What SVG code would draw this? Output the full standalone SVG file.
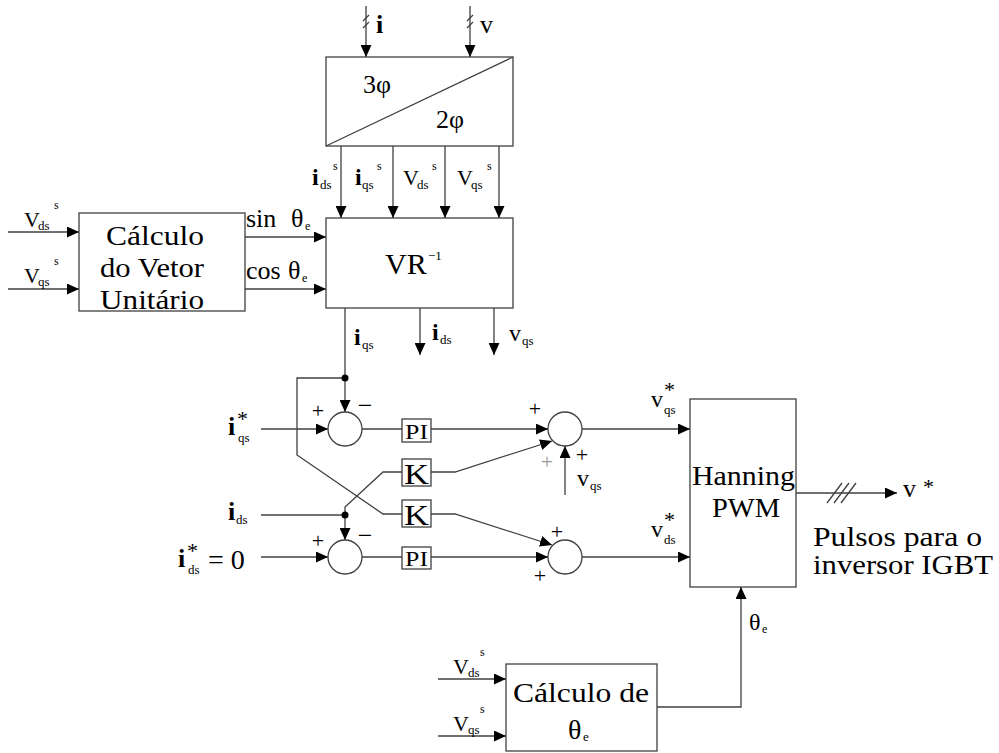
<svg xmlns="http://www.w3.org/2000/svg" width="999" height="753" viewBox="0 0 999 753">
<style>
.ln{fill:none;stroke:#404040;stroke-width:1.3}
.bx{fill:#fff;stroke:#404040;stroke-width:1.3}
.t{font-family:"Liberation Serif","Times New Roman",serif;fill:#000}
.b{font-weight:bold}
.sg{font-family:"Liberation Serif","Times New Roman",serif;fill:#000;text-anchor:middle}
</style>
<defs>
<marker id="ah" viewBox="0 0 12 11" markerWidth="12" markerHeight="11" refX="12" refY="5.5" orient="auto" markerUnits="userSpaceOnUse">
<path d="M0,0 L12,5.5 L0,11 z" fill="#000"/>
</marker>
</defs>
<rect width="999" height="753" fill="#fff"/>

<g id="connectors">
<line class="ln" x1="366" y1="6" x2="366" y2="57" marker-end="url(#ah)"/>
<line class="ln" x1="470" y1="6" x2="470" y2="57" marker-end="url(#ah)"/>
<path class="ln" d="M363,21 L369,15 M363,28 L369,22 M467,21 L473,15 M467,28 L473,22"/>
<line class="ln" x1="341" y1="146" x2="341" y2="218" marker-end="url(#ah)"/>
<line class="ln" x1="393" y1="146" x2="393" y2="218" marker-end="url(#ah)"/>
<line class="ln" x1="445" y1="146" x2="445" y2="218" marker-end="url(#ah)"/>
<line class="ln" x1="499" y1="146" x2="499" y2="218" marker-end="url(#ah)"/>
<line class="ln" x1="8" y1="232" x2="79" y2="232" marker-end="url(#ah)"/>
<line class="ln" x1="8" y1="289" x2="79" y2="289" marker-end="url(#ah)"/>
<line class="ln" x1="245" y1="237" x2="326" y2="237" marker-end="url(#ah)"/>
<line class="ln" x1="245" y1="289" x2="326" y2="289" marker-end="url(#ah)"/>
<line class="ln" x1="345" y1="308" x2="345" y2="412" marker-end="url(#ah)"/>
<line class="ln" x1="420" y1="308" x2="420" y2="355" marker-end="url(#ah)"/>
<line class="ln" x1="494" y1="308" x2="494" y2="355" marker-end="url(#ah)"/>
<polyline class="ln" points="345,378 297,378 297,455 383,514 402,514"/>
<line class="ln" x1="261" y1="515" x2="345" y2="515"/>
<polyline class="ln" points="345,515 345,507 383,472 402,472"/>
<line class="ln" x1="345" y1="515" x2="345" y2="540" marker-end="url(#ah)"/>
<line class="ln" x1="261" y1="429" x2="328" y2="429" marker-end="url(#ah)"/>
<line class="ln" x1="261" y1="557" x2="328" y2="557" marker-end="url(#ah)"/>
<line class="ln" x1="362" y1="429" x2="402" y2="429"/>
<line class="ln" x1="362" y1="557" x2="402" y2="557"/>
<line class="ln" x1="431" y1="429" x2="548" y2="429" marker-end="url(#ah)"/>
<line class="ln" x1="431" y1="557" x2="548" y2="557" marker-end="url(#ah)"/>
<polyline class="ln" points="431,472 455,472 552,441" marker-end="url(#ah)"/>
<polyline class="ln" points="431,514 455,514 552,545" marker-end="url(#ah)"/>
<line class="ln" x1="565" y1="495" x2="565" y2="446" marker-end="url(#ah)"/>
<line class="ln" x1="582" y1="429" x2="690" y2="429" marker-end="url(#ah)"/>
<line class="ln" x1="582" y1="557" x2="690" y2="557" marker-end="url(#ah)"/>
<line class="ln" x1="796" y1="493" x2="897" y2="493" marker-end="url(#ah)"/>
<path class="ln" d="M827,503 L842,483 M834,503 L849,483 M841,503 L856,483"/>
<polyline class="ln" points="657,707 741,707 741,587" marker-end="url(#ah)"/>
<line class="ln" x1="438" y1="679" x2="506" y2="679" marker-end="url(#ah)"/>
<line class="ln" x1="438" y1="736" x2="506" y2="736" marker-end="url(#ah)"/>
<circle cx="345" cy="378" r="3.5" fill="#000"/>
<circle cx="345" cy="515" r="3.5" fill="#000"/>
</g>

<g id="labels">
<text class="t b" x="376" y="33" font-size="26">i</text>
<text class="t" x="480" y="33" font-size="26">v</text>
<text class="t b" x="312" y="185" font-size="24">i<tspan x="320" y="189" font-size="13" font-weight="normal">ds</tspan><tspan x="333" y="170" font-size="12" font-weight="normal">s</tspan></text>
<text class="t b" x="355" y="185" font-size="24">i<tspan x="362" y="189" font-size="13" font-weight="normal">qs</tspan><tspan x="377" y="170" font-size="12" font-weight="normal">s</tspan></text>
<text class="t" x="403" y="185" font-size="22">V<tspan x="417" y="189" font-size="13">ds</tspan><tspan x="432" y="170" font-size="12">s</tspan></text>
<text class="t" x="457" y="185" font-size="22">V<tspan x="471" y="189" font-size="13">qs</tspan><tspan x="487" y="170" font-size="12">s</tspan></text>
<text class="t" x="24" y="227" font-size="22">V<tspan x="38" y="230" font-size="13">ds</tspan><tspan x="54" y="209" font-size="12">s</tspan></text>
<text class="t" x="24" y="283" font-size="22">V<tspan x="38" y="286" font-size="13">qs</tspan><tspan x="54" y="265" font-size="12">s</tspan></text>
<text class="t" x="246" y="227" font-size="26">sin<tspan x="291">θ</tspan><tspan x="305" y="230" font-size="12">e</tspan></text>
<text class="t" x="246" y="279" font-size="26">cos<tspan x="288">θ</tspan><tspan x="302" y="282" font-size="12">e</tspan></text>
<text class="t b" x="354" y="345" font-size="24">i<tspan x="362" y="349" font-size="13" font-weight="normal">qs</tspan></text>
<text class="t b" x="432" y="340" font-size="24">i<tspan x="440" y="344" font-size="13" font-weight="normal">ds</tspan></text>
<text class="t" x="509" y="341" font-size="24">v<tspan x="522" y="345" font-size="13">qs</tspan></text>
<text class="t b" x="228" y="435" font-size="26">i<tspan x="237" y="426" font-size="22" font-weight="normal">*</tspan><tspan x="238" y="442" font-size="13" font-weight="normal">qs</tspan></text>
<text class="t b" x="228" y="520" font-size="26">i<tspan x="236" y="524" font-size="13" font-weight="normal">ds</tspan></text>
<text class="t b" x="178" y="567" font-size="26">i<tspan x="187" y="558" font-size="22" font-weight="normal">*</tspan><tspan x="188" y="574" font-size="13" font-weight="normal">ds</tspan><tspan x="208" y="569" font-size="28" font-weight="normal">= 0</tspan></text>
<text class="t" x="651" y="407" font-size="24">v<tspan x="664" y="397" font-size="22">*</tspan><tspan x="664" y="414" font-size="13">qs</tspan></text>
<text class="t" x="651" y="537" font-size="24">v<tspan x="664" y="527" font-size="22">*</tspan><tspan x="664" y="544" font-size="13">ds</tspan></text>
<text class="t" x="577" y="486" font-size="24">v<tspan x="590" y="490" font-size="13">qs</tspan></text>
<text class="t" x="903" y="497" font-size="26">v<tspan x="923" y="494" font-size="22">*</tspan></text>
<text class="t" x="813" y="546" font-size="28" textLength="169" lengthAdjust="spacingAndGlyphs">Pulsos para o</text>
<text class="t" x="813" y="574" font-size="28" textLength="180" lengthAdjust="spacingAndGlyphs">inversor IGBT</text>
<text class="t" x="749" y="630" font-size="24">θ<tspan x="762" y="633" font-size="12">e</tspan></text>
<text class="t" x="453" y="674" font-size="22">V<tspan x="468" y="677" font-size="13">ds</tspan><tspan x="480" y="656" font-size="12">s</tspan></text>
<text class="t" x="453" y="731" font-size="22">V<tspan x="468" y="734" font-size="13">qs</tspan><tspan x="480" y="713" font-size="12">s</tspan></text>
<text class="sg" x="318" y="418" font-size="22">+</text>
<text class="sg" x="365" y="414" font-size="26">−</text>
<text class="sg" x="318" y="548" font-size="22">+</text>
<text class="sg" x="365" y="544" font-size="26">−</text>
<text class="sg" x="535" y="416" font-size="22">+</text>
<text class="sg" x="547" y="469" font-size="22" style="fill:#999">+</text>
<text class="sg" x="582" y="462" font-size="22">+</text>
<text class="sg" x="557" y="539" font-size="22">+</text>
<text class="sg" x="540" y="583" font-size="22">+</text>
</g>

<g id="conv32">
<rect class="bx" x="326" y="57" width="187" height="89"/>
<line class="ln" x1="326" y1="146" x2="513" y2="57"/>
<text class="t" x="363" y="93" font-size="26">3φ</text>
<text class="t" x="436" y="128" font-size="26">2φ</text>
</g>

<g id="vr">
<rect class="bx" x="326" y="218" width="187" height="90"/>
<text class="t" x="385" y="274" font-size="30">VR<tspan x="428" y="260" font-size="13">−1</tspan></text>
</g>

<g id="vetor">
<rect class="bx" x="79" y="213" width="166" height="98"/>
<text class="t" x="106" y="245" font-size="27" textLength="98" lengthAdjust="spacingAndGlyphs">Cálculo</text>
<text class="t" x="100" y="277" font-size="27" textLength="104" lengthAdjust="spacingAndGlyphs">do Vetor</text>
<text class="t" x="100" y="309" font-size="27" textLength="104" lengthAdjust="spacingAndGlyphs">Unitário</text>
</g>

<g id="sum1"><circle class="bx" cx="345" cy="429" r="17"/></g>
<g id="sum2"><circle class="bx" cx="345" cy="557" r="17"/></g>
<g id="sum3"><circle class="bx" cx="565" cy="429" r="17"/></g>
<g id="sum4"><circle class="bx" cx="565" cy="557" r="17"/></g>

<g id="pi1">
<rect class="bx" x="402" y="419" width="29" height="23"/>
<text class="t" x="405" y="439" font-size="20" textLength="23" lengthAdjust="spacingAndGlyphs">PI</text>
</g>
<g id="pi2">
<rect class="bx" x="402" y="547" width="29" height="22"/>
<text class="t" x="405" y="566" font-size="20" textLength="23" lengthAdjust="spacingAndGlyphs">PI</text>
</g>
<g id="k1">
<rect class="bx" x="402" y="459" width="29" height="27"/>
<text class="t" x="404" y="484" font-size="30" textLength="25" lengthAdjust="spacingAndGlyphs">K</text>
</g>
<g id="k2">
<rect class="bx" x="402" y="500" width="29" height="27"/>
<text class="t" x="404" y="525" font-size="30" textLength="25" lengthAdjust="spacingAndGlyphs">K</text>
</g>

<g id="hanning">
<rect class="bx" x="690" y="399" width="106" height="188"/>
<text class="t" x="692" y="485" font-size="28" textLength="103" lengthAdjust="spacingAndGlyphs">Hanning</text>
<text class="t" x="712" y="517" font-size="28" textLength="68" lengthAdjust="spacingAndGlyphs">PWM</text>
</g>

<g id="theta">
<rect class="bx" x="506" y="664" width="151" height="87"/>
<text class="t" x="513" y="702" font-size="28" textLength="136" lengthAdjust="spacingAndGlyphs">Cálculo de</text>
<text class="t" x="568" y="739" font-size="28">θ<tspan x="583" y="741" font-size="13">e</tspan></text>
</g>
</svg>
